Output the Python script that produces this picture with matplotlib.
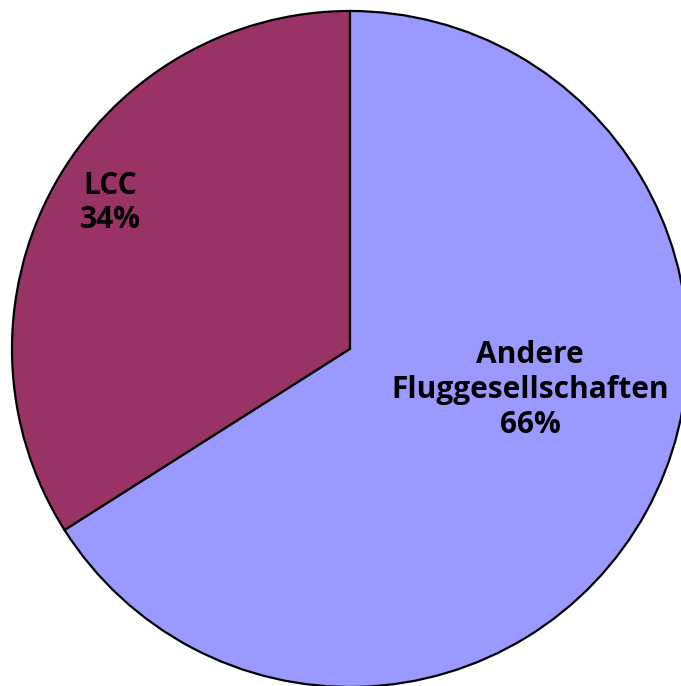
import matplotlib
matplotlib.use("Agg")
import matplotlib.pyplot as plt
import numpy as np

categories = ["LCC", "Andere\nFluggesellschaften"]
values = [34, 66]
colors = ["#993366", "#9999FF"]

W, H = 681, 686
cx, cy, R = 350, 349, 338  # pixel center/radius of pie

fig = plt.figure(figsize=(W / 100, H / 100), dpi=100)
ax = fig.add_axes([0, 0, 1, 1])
ax.pie(values, colors=colors, startangle=90, counterclock=True,
       wedgeprops=dict(edgecolor="black", linewidth=1.6))
ax.set_xlim(-cx / R, (W - cx) / R)
ax.set_ylim(-(H - cy) / R, cy / R)
ax.set_aspect("equal")
ax.axis("off")

label_pos = [(-240 / R, 146 / R), (180 / R, -41 / R)]
for cat, v, (x, y) in zip(categories, values, label_pos):
    ax.text(x, y, f"{cat}\n{v}%", ha="center", va="center",
            fontsize=21.5, fontweight="bold", family="Open Sans",
            linespacing=1.2, color="black")

fig.savefig("out.png", dpi=100)
